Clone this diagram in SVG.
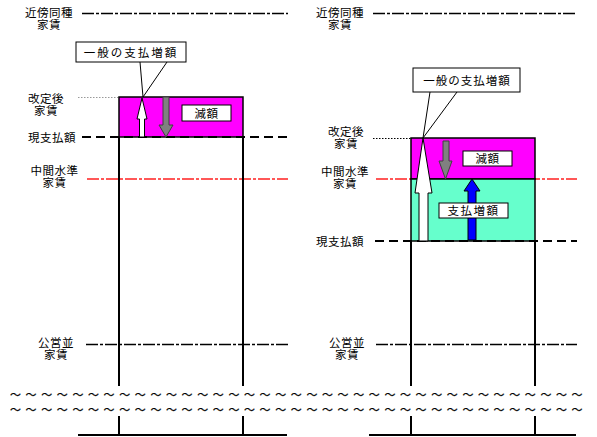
<svg xmlns="http://www.w3.org/2000/svg" width="597" height="437" viewBox="0 0 597 437">
<style>
text{font-family:"Noto Sans CJK JP","Noto Sans CJK SC",sans-serif;font-size:11.5px;fill:#000;letter-spacing:0.5px}
.lbl{text-anchor:middle}
.dd{fill:none;stroke:#000;stroke-width:1.3;stroke-dasharray:12 2 3 2}
.red{fill:none;stroke:#ff2020;stroke-width:1.3;stroke-dasharray:12 2 3 2}
.cur{fill:none;stroke:#000;stroke-width:2;stroke-dasharray:9 5}
.dot{fill:none;stroke:#000;stroke-width:1;stroke-dasharray:1.5 1.5}
.dotg{fill:none;stroke:#999;stroke-width:1;stroke-dasharray:1.5 1.5}
.v{stroke:#000;stroke-width:2;fill:none}
.box{fill:#fff;stroke:#000;stroke-width:1}
.thin{stroke:#000;stroke-width:1;fill:none}
.til{font-size:11px;letter-spacing:4.6px;stroke:#000;stroke-width:0.25}
</style>
<rect width="597" height="437" fill="#fff"/>

<g id="levels">
  <line class="dd" x1="82" y1="13.5" x2="288" y2="13.5"/>
  <line class="dd" x1="373" y1="13.5" x2="577" y2="13.5"/>
  <line class="dotg" x1="78" y1="97.5" x2="119" y2="97.5"/>
  <line class="dot" x1="373" y1="138.5" x2="411" y2="138.5"/>
  <line class="red" x1="87" y1="179" x2="288" y2="179"/>
  <line class="red" x1="376" y1="179" x2="577" y2="179"/>
  <line class="dd" x1="86" y1="344.5" x2="288" y2="344.5"/>
  <line class="dd" x1="376" y1="344.5" x2="577" y2="344.5"/>
</g>

<g id="left-bar">
  <rect x="119" y="97" width="124" height="40" fill="#ff00ff" stroke="#000" stroke-width="1.5"/>
  <line class="cur" x1="82" y1="137" x2="288" y2="137"/>
  <line class="v" x1="119" y1="137" x2="119" y2="386"/>
  <line class="v" x1="243" y1="137" x2="243" y2="386"/>
  <line class="v" x1="119" y1="416" x2="119" y2="435"/>
  <line class="v" x1="243" y1="416" x2="243" y2="435"/>
  <line class="v" x1="78" y1="435" x2="287" y2="435"/>
</g>

<g id="right-bar">
  <rect x="411" y="138" width="124" height="41" fill="#ff00ff" stroke="#000" stroke-width="1.5"/>
  <rect x="411" y="179" width="124" height="62" fill="#66ffcc" stroke="#000" stroke-width="1.5"/>
  <line class="cur" x1="375" y1="241" x2="577" y2="241"/>
  <line class="v" x1="411" y1="241" x2="411" y2="386"/>
  <line class="v" x1="535" y1="241" x2="535" y2="386"/>
  <line class="v" x1="411" y1="416" x2="411" y2="435"/>
  <line class="v" x1="535" y1="416" x2="535" y2="435"/>
  <line class="v" x1="369" y1="435" x2="576" y2="435"/>
</g>

<g id="connectors">
  <polygon points="142,98 147,119 144.5,119 144.5,137 139.5,137 139.5,119 137,119" fill="#fff" stroke="#000" stroke-width="1"/>
  <polygon points="163,97 169,97 169,125 173,125 166,137 159,125 163,125" fill="#808080" stroke="#404040" stroke-width="1"/>
  <line class="thin" x1="140" y1="62" x2="143" y2="97"/>
  <line class="thin" x1="167" y1="62" x2="143" y2="97"/>
  <polygon points="423,138 432,193 428,193 428,241 419,241 419,193 415,193" fill="#fff" stroke="#000" stroke-width="1"/>
  <polygon points="443,141 449,141 449,161 452,161 445.5,179 439,161 443,161" fill="#808080" stroke="#404040" stroke-width="1"/>
  <polygon points="472,179 480,191 476,191 476,240 468,240 468,191 464,191" fill="#0000ff" stroke="#000" stroke-width="1"/>
  <line class="thin" x1="430" y1="92" x2="423" y2="138"/>
  <line class="thin" x1="457" y1="92" x2="423" y2="138"/>
</g>

<g id="callout-left">
  <rect class="box" x="76" y="42" width="110" height="20"/>
  <text class="lbl" x="131" y="56.5" style="letter-spacing:2px">一般の支払増額</text>
</g>
<g id="callout-right">
  <rect class="box" x="413" y="68" width="107" height="24"/>
  <text class="lbl" x="467" y="84.5" style="letter-spacing:1px">一般の支払増額</text>
</g>
<g id="decrease-left">
  <rect class="box" x="182" y="105" width="49" height="16"/>
  <text class="lbl" x="206.5" y="117.5">減額</text>
</g>
<g id="decrease-right">
  <rect class="box" x="463" y="151" width="49" height="15"/>
  <text class="lbl" x="487.5" y="163">減額</text>
</g>
<g id="increase-right">
  <rect class="box" x="439" y="203" width="69" height="15"/>
  <text class="lbl" x="473.5" y="215" style="letter-spacing:1.5px">支払増額</text>
</g>

<g id="labels-left">
  <text class="lbl"><tspan x="49" y="17">近傍同種</tspan><tspan x="49" y="29">家賃</tspan></text>
  <text class="lbl"><tspan x="46" y="103">改定後</tspan><tspan x="46" y="115">家賃</tspan></text>
  <text class="lbl" x="52" y="142">現支払額</text>
  <text class="lbl"><tspan x="54.5" y="175">中間水準</tspan><tspan x="54.5" y="187">家賃</tspan></text>
  <text class="lbl"><tspan x="56" y="347">公営並</tspan><tspan x="56" y="359">家賃</tspan></text>
</g>
<g id="labels-right">
  <text class="lbl"><tspan x="340" y="17">近傍同種</tspan><tspan x="340" y="29">家賃</tspan></text>
  <text class="lbl"><tspan x="346" y="136">改定後</tspan><tspan x="346" y="148">家賃</tspan></text>
  <text class="lbl" x="340" y="246">現支払額</text>
  <text class="lbl"><tspan x="345" y="176">中間水準</tspan><tspan x="345" y="188">家賃</tspan></text>
  <text class="lbl"><tspan x="347" y="347">公営並</tspan><tspan x="347" y="359">家賃</tspan></text>
</g>

<g id="break">
  <text class="til"><tspan x="10" y="399">～～～～～～～～～～～～～～～～～～～～～～～～～～～～～～～～～～～～～</tspan><tspan x="10" y="414">～～～～～～～～～～～～～～～～～～～～～～～～～～～～～～～～～～～～～</tspan></text>
</g>
</svg>
